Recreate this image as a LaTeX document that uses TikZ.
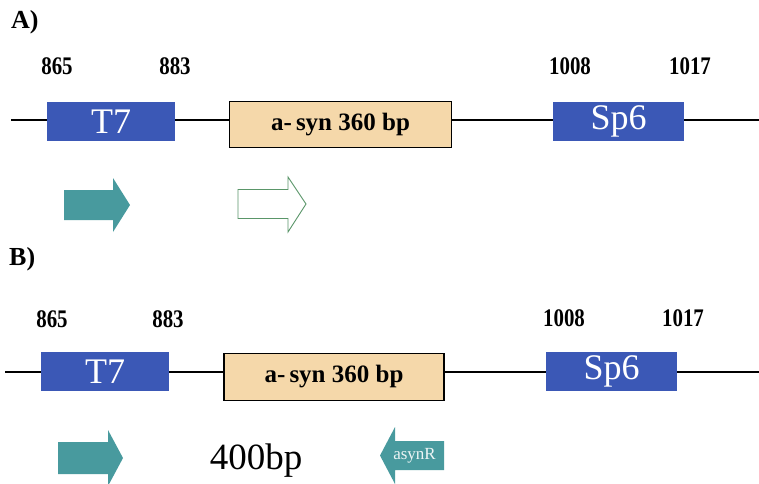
\documentclass[tikz,border=0pt]{standalone}
\usepackage{fontspec}
\setmainfont{Liberation Serif}
\definecolor{promblue}{RGB}{59,88,182}
\definecolor{insertfill}{RGB}{245,216,170}
\definecolor{primerteal}{RGB}{72,154,158}
\definecolor{outlinegreen}{RGB}{90,150,105}
\newcommand{\tallnum}[1]{\scalebox{0.95}[1.15]{#1}}
\tikzset{
  promoter/.style={fill=promblue, draw=none, text=white, inner sep=0pt,
    minimum height=39pt, font=\fontsize{36}{36}\selectfont},
  insertbox/.style={fill=insertfill, draw=black, line width=1.2pt, inner sep=0pt,
    font=\fontsize{25}{25}\selectfont\bfseries},
  posnum/.style={font=\fontsize{22}{22}\selectfont\bfseries, inner sep=0pt},
  panel/.style={font=\fontsize{26}{26}\selectfont\bfseries, inner sep=0pt, anchor=west},
  backbone/.style={line width=1.4pt, black},
  tealarrow/.style={fill=primerteal, draw=none},
  openarrow/.style={fill=white, draw=outlinegreen, line width=0.9pt},
}
\begin{document}
\begin{tikzpicture}[x=1pt, y=-1pt]
\useasboundingbox (0,0) rectangle (759,483);
\fill[white] (0,0) rectangle (759,483);

% ---------- panel A ----------
\node[panel] (labA) at (11,22) {A)};
\node[posnum] (a865)  at (57,66)  {\tallnum{865}};
\node[posnum] (a883)  at (175,66) {\tallnum{883}};
\node[posnum] (a1008) at (570,66) {\tallnum{1008}};
\node[posnum] (a1017) at (690,66) {\tallnum{1017}};

\node[promoter, minimum width=128pt] (aT7) at (111,121.5) {T7};
\node[insertbox, minimum width=222pt, minimum height=46pt] (aIns) at (340.5,124.5) {a-\,syn 360 bp};
\node[promoter, minimum width=131pt] (aSp6) at (618.5,121) {Sp6};
\coordinate (aL) at (11,120);
\coordinate (aR) at (759,120);
\draw[backbone] (aL) -- (aT7.west |- aL);
\draw[backbone] (aT7.east |- aL) -- (aIns.west |- aL);
\draw[backbone] (aIns.east |- aL) -- (aSp6.west |- aL);
\draw[backbone] (aSp6.east |- aL) -- (aR);

% forward primer and open arrow
\fill[tealarrow] (64,190) -- (113,190) -- (113,178) -- (130,205) -- (113,232)
  -- (113,220) -- (64,220) -- cycle;
\draw[openarrow] (238,189.5) -- (288,189.5) -- (288,177) -- (306,204) -- (288,232)
  -- (288,218.5) -- (238,218.5) -- cycle;

% ---------- panel B ----------
\node[panel] (labB) at (9,259) {B)};
\node[posnum] (b865)  at (52,319)  {\tallnum{865}};
\node[posnum] (b883)  at (168,319) {\tallnum{883}};
\node[posnum] (b1008) at (564,318) {\tallnum{1008}};
\node[posnum] (b1017) at (683,318) {\tallnum{1017}};

\node[promoter, minimum width=128pt] (bT7) at (105,371.5) {T7};
\node[insertbox, minimum width=220pt, minimum height=47pt] (bIns) at (334,377) {a-\,syn 360 bp};
\node[promoter, minimum width=131pt] (bSp6) at (611.5,371.5) {Sp6};
\coordinate (bL) at (5,372);
\coordinate (bR) at (759,372);
\draw[backbone] (bL) -- (bT7.west |- bL);
\draw[backbone] (bT7.east |- bL) -- (bIns.west |- bL);
\draw[backbone] (bIns.east |- bL) -- (bSp6.west |- bL);
\draw[backbone] (bSp6.east |- bL) -- (bR);

% forward and reverse primers
\fill[tealarrow] (58,442) -- (108,442) -- (108,430) -- (123,458) -- (108,486)
  -- (108,474) -- (58,474) -- cycle;
\fill[tealarrow] (444,441) -- (395,441) -- (395,427) -- (380,455.5) -- (395,484)
  -- (395,470) -- (444,470) -- cycle;
\node[text=white!90!primerteal, font=\fontsize{17}{17}\selectfont, inner sep=0pt]
  (asynR) at (414.5,456) {asynR};
\node[font=\fontsize{37}{37}\selectfont, inner sep=0pt] (prod) at (256,461) {400bp};
\end{tikzpicture}
\end{document}
